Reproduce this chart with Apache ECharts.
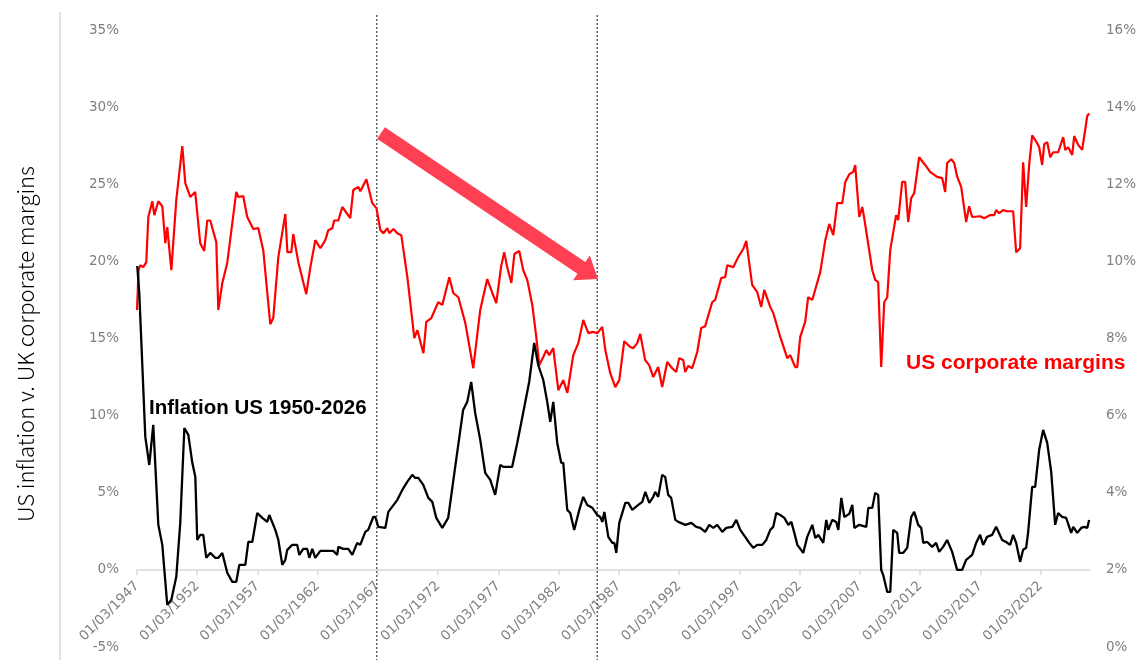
<!DOCTYPE html>
<html>
<head>
<meta charset="utf-8">
<script src="https://cdn.jsdelivr.net/npm/echarts@6/dist/echarts.min.js"></script>
<style>
  html, body { margin: 0; padding: 0; background: #fff; }
  #chart { width: 1146px; height: 672px; }
</style>
</head>
<body>
<div id="chart"></div>
<script>
// US corporate margins (right axis, %)
const marginYears = [
  1947.00,1947.13,1947.27,1947.52,1947.77,1947.94,1948.27,1948.44,1948.77,1949.10,1949.35,1949.51,1949.85,
  1950.26,1950.76,1951.01,1951.42,1951.83,1952.25,1952.58,1952.83,1953.08,1953.58,1953.75,1954.08,1954.49,
  1955.24,1955.41,1955.82,1956.15,1956.65,1957.07,1957.48,1958.06,1958.31,1958.73,1959.31,1959.48,1959.81,
  1959.97,1960.39,1961.05,1961.39,1961.80,1962.22,1962.63,1962.88,1963.21,1963.37,1963.71,1964.04,1964.70,
  1964.95,1965.37,1965.54,1966.04,1966.53,1966.87,1967.20,1967.45,1967.78,1967.94,1968.28,1968.61,1968.94,
  1969.44,1970.02,1970.27,1970.77,1971.01,1971.43,1972.00,1972.34,1972.59,1972.92,1973.25,1973.67,1974.25,
  1974.91,1975.49,1976.07,1976.49,1976.82,1977.23,1977.48,1977.73,1978.07,1978.32,1978.73,1979.06,1979.39,
  1979.81,1980.14,1980.39,1980.72,1980.97,1981.22,1981.55,1981.97,1982.38,1982.72,1983.21,1983.63,1984.04,
  1984.46,1984.87,1985.21,1985.62,1985.87,1986.28,1986.70,1987.03,1987.44,1987.94,1988.19,1988.52,1988.77,
  1989.18,1989.51,1989.85,1990.26,1990.59,1991.01,1991.42,1991.76,1992.00,1992.34,1992.50,1992.75,1993.08,
  1993.50,1993.83,1994.16,1994.74,1994.99,1995.49,1995.82,1995.99,1996.49,1996.90,1997.32,1997.57,1998.06,
  1998.48,1998.81,1999.06,1999.56,1999.81,2000.39,2000.97,2001.22,2001.63,2001.80,2002.05,2002.46,2002.71,
  2003.05,2003.71,2004.13,2004.46,2004.79,2005.12,2005.54,2005.79,2006.12,2006.45,2006.61,2006.95,2007.20,
  2007.36,2008.03,2008.27,2008.52,2008.77,2009.02,2009.27,2009.52,2010.01,2010.18,2010.51,2010.76,2011.01,
  2011.26,2011.51,2011.92,2012.42,2012.83,2013.41,2013.83,2014.08,2014.24,2014.58,2014.83,2015.08,2015.41,
  2015.82,2016.07,2016.32,2016.99,2017.32,2017.82,2018.15,2018.31,2018.56,2018.89,2019.22,2019.72,2019.97,
  2020.30,2020.55,2020.80,2021.05,2021.30,2021.71,2021.88,2022.13,2022.30,2022.55,2022.80,2023.05,2023.46,
  2023.88,2024.04,2024.29,2024.62,2024.79,2025.12,2025.45,2025.87,2026.03
]
const marginPct = [
  8.74,9.77,9.90,9.85,9.98,11.15,11.56,11.20,11.56,11.43,10.47,10.89,9.77,
  11.59,12.99,12.03,11.67,11.80,10.47,10.27,11.06,11.06,10.50,8.74,9.44,9.96,
  11.80,11.67,11.69,11.15,10.84,10.86,10.29,8.37,8.53,10.11,11.23,10.24,10.24,
  10.71,9.98,9.15,9.85,10.55,10.34,10.55,10.81,10.86,11.06,11.06,11.41,11.12,
  11.85,11.93,11.82,12.13,11.51,11.38,10.81,10.73,10.86,10.73,10.84,10.73,10.68,
  9.59,8.01,8.22,7.62,8.43,8.53,8.94,8.87,9.18,9.59,9.18,9.07,8.40,
  7.23,8.74,9.54,9.18,8.92,9.88,10.24,9.85,9.44,10.19,10.27,9.77,9.52,
  8.87,8.04,7.31,7.52,7.70,7.57,7.75,6.66,6.92,6.59,7.57,7.88,8.48,
  8.14,8.17,8.14,8.30,7.70,7.10,6.74,6.92,7.93,7.78,7.75,7.88,8.12,
  7.44,7.31,7.00,7.26,6.74,7.39,7.23,7.13,7.49,7.44,7.13,7.29,7.23,
  7.65,8.27,8.32,8.94,9.00,9.57,9.59,9.90,9.85,10.11,10.32,10.53,9.39,
  9.20,8.82,9.26,8.82,8.66,8.04,7.49,7.57,7.26,7.26,8.04,8.43,9.07,
  9.00,9.72,10.55,10.97,10.68,11.51,11.51,12.06,12.26,12.32,12.50,11.15,11.41,
  11.12,9.77,9.52,9.46,7.26,8.94,9.07,10.29,11.20,11.07,12.06,12.06,11.02,
  11.64,11.77,12.70,12.50,12.32,12.19,12.16,11.80,12.55,12.65,12.55,12.19,11.93,
  11.02,11.43,11.15,11.17,11.12,11.20,11.20,11.33,11.25,11.33,11.30,11.30,10.24,
  10.34,12.57,11.41,12.50,13.27,13.07,12.96,12.50,13.04,13.09,12.70,12.83,12.83,
  13.22,12.89,12.96,12.76,13.25,13.02,12.89,13.77,13.84
]

// US inflation (left axis, %)
const inflationYears = [
  1947.02,1947.19,1947.69,1948.02,1948.35,1948.77,1949.10,1949.51,1949.85,1950.26,1950.59,1950.93,1951.26,
  1951.59,1951.84,1952.00,1952.25,1952.50,1952.75,1953.08,1953.50,1953.75,1954.08,1954.49,1954.91,1955.24,
  1955.49,1955.99,1956.24,1956.57,1956.98,1957.40,1957.81,1957.98,1958.48,1958.73,1959.06,1959.31,1959.47,
  1959.89,1960.30,1960.47,1960.80,1961.13,1961.30,1961.55,1961.80,1962.21,1962.79,1963.29,1963.62,1963.71,
  1964.12,1964.54,1964.87,1965.28,1965.53,1965.95,1966.19,1966.61,1966.78,1967.03,1967.61,1967.86,1968.61,
  1969.02,1969.43,1969.85,1970.10,1970.35,1970.76,1971.18,1971.51,1971.84,1972.00,1972.34,1972.83,1973.41,
  1974.07,1974.41,1974.74,1975.07,1975.49,1975.90,1976.32,1976.73,1977.15,1977.40,1978.14,1978.56,1979.05,
  1979.55,1979.97,1980.30,1980.72,1981.05,1981.30,1981.55,1981.88,1982.21,1982.38,1982.71,1982.96,1983.29,
  1983.71,1984.04,1984.37,1984.79,1985.20,1985.45,1985.62,1985.79,1986.12,1986.45,1986.62,1986.78,1987.03,
  1987.53,1987.78,1988.11,1988.61,1988.94,1989.19,1989.35,1989.52,1989.85,1990.01,1990.26,1990.59,1990.84,
  1991.09,1991.34,1991.68,1991.93,1992.51,1993.01,1993.42,1993.75,1994.16,1994.50,1994.83,1995.16,1995.58,
  1995.91,1996.41,1996.74,1997.07,1997.48,1997.82,1998.15,1998.48,1998.90,1999.23,1999.56,1999.81,2000.06,
  2000.39,2000.73,2001.06,2001.31,2001.56,2001.81,2002.30,2002.63,2003.05,2003.30,2003.55,2003.96,2004.21,
  2004.38,2004.71,2005.04,2005.21,2005.46,2005.71,2006.12,2006.37,2006.54,2006.95,2007.53,2007.70,2008.03,
  2008.27,2008.52,2008.77,2008.93,2009.27,2009.52,2009.77,2010.10,2010.26,2010.60,2010.93,2011.26,2011.51,
  2011.84,2012.09,2012.26,2012.59,2013.00,2013.33,2013.58,2013.91,2014.24,2014.66,2015.07,2015.49,2015.82,
  2016.32,2016.65,2016.98,2017.23,2017.56,2017.98,2018.31,2018.81,2019.14,2019.47,2019.72,2019.97,2020.30,
  2020.55,2020.80,2020.96,2021.30,2021.55,2021.88,2022.21,2022.55,2022.88,2023.21,2023.46,2023.79,2024.12,
  2024.54,2024.71,2025.04,2025.37,2025.62,2025.87,2026.03
]
const inflationPct = [
  19.70,17.95,8.62,6.80,9.40,2.92,1.62,-2.27,-1.94,-0.45,3.05,9.20,8.75,
  6.94,6.03,1.94,2.27,2.27,0.78,1.10,0.78,0.78,1.10,-0.19,-0.78,-0.78,
  0.32,0.32,1.81,1.81,3.69,3.37,3.11,3.56,2.59,1.94,0.32,0.65,1.30,
  1.62,1.62,0.97,1.36,1.36,0.78,1.36,0.78,1.23,1.23,1.23,0.97,1.49,
  1.36,1.36,0.97,1.75,1.62,2.46,2.59,3.43,3.43,2.79,2.72,3.76,4.54,
  5.18,5.70,6.16,5.96,5.96,5.51,4.67,4.41,3.37,3.43,2.72,3.37,6.68,
  10.37,10.89,12.18,10.17,8.43,6.29,5.83,4.86,6.80,6.68,6.68,8.23,10.17,
  12.18,14.71,13.29,12.31,10.89,9.59,10.89,8.23,6.94,6.94,3.89,3.69,2.59,
  3.89,4.73,4.21,4.02,3.56,3.43,3.11,3.76,2.14,1.75,1.75,1.10,3.05,
  4.34,4.34,3.89,4.21,4.41,5.06,5.18,4.34,4.73,5.06,4.73,6.16,6.03,
  4.86,4.67,3.24,3.11,2.92,3.05,2.79,2.72,2.46,2.92,2.72,2.92,2.46,
  2.72,2.79,3.24,2.59,2.14,1.75,1.43,1.62,1.62,1.94,2.59,2.79,3.69,
  3.56,3.37,2.92,3.11,2.40,1.62,1.10,2.14,2.92,2.07,2.27,1.75,3.24,
  2.59,3.24,3.11,2.59,4.67,3.43,3.63,4.21,2.72,2.92,2.79,4.02,4.02,
  4.99,4.86,0.00,-0.32,-1.43,-1.43,2.59,2.40,1.10,1.10,1.43,3.43,3.76,
  2.92,2.72,1.75,1.81,1.49,1.75,1.17,1.49,1.94,1.17,0.00,0.00,0.65,
  0.97,1.75,2.27,1.62,2.14,2.27,2.79,1.94,1.81,1.62,2.27,1.75,0.52,
  1.30,1.43,2.40,5.38,5.38,7.78,9.07,8.23,6.35,2.92,3.69,3.43,3.37,
  2.40,2.79,2.40,2.72,2.79,2.72,3.24
]

const tickYears = [1947,1952,1957,1962,1967,1972,1977,1982,1987,1992,1997,2002,2007,2012,2017,2022]
const dividerYears = [1966.9, 1985.2]
const axisTitle = 'US inflation v. UK corporate margins'
const inflationLabel = 'Inflation US 1950-2026'
const marginLabel = 'US corporate margins'

const chart = echarts.init(document.getElementById('chart'))
const grey = '#7f7f7f'
const gridTop = 30, gridBottom = 25

const option = {
  animation: false,
  grid: { left: 137, right: 56, top: gridTop, bottom: gridBottom, containLabel: false, outerBoundsMode: 'none' },
  xAxis: {
    type: 'value',
    min: 1947,
    max: 2026.1,
    offset: 0,
    axisLine: { onZero: false, lineStyle: { color: '#d9d9d9', width: 1.5 } },
    axisTick: { show: true, customValues: tickYears, length: 5, lineStyle: { color: '#d9d9d9', width: 1.5 } },
    axisLabel: {
      customValues: tickYears,
      rotate: 45,
      margin: 14,
      color: grey,
      fontFamily: 'DejaVu Sans',
      fontSize: 13.5,
      formatter: v => '01/03/' + Math.round(v)
    },
    splitLine: { show: false }
  },
  yAxis: [
    {
      type: 'value', min: -5, max: 35, interval: 5,
      axisLine: { show: false }, axisTick: { show: false }, splitLine: { show: false },
      axisLabel: { formatter: '{value}%', color: grey, fontFamily: 'DejaVu Sans', fontSize: 13.5, margin: 18 }
    },
    {
      type: 'value', min: 0, max: 16, interval: 2, position: 'right',
      axisLine: { show: false }, axisTick: { show: false }, splitLine: { show: false },
      axisLabel: { formatter: '{value}%', color: grey, fontFamily: 'DejaVu Sans', fontSize: 13.5, margin: 16 }
    }
  ],
  series: [
    {
      name: marginLabel,
      type: 'line',
      yAxisIndex: 1,
      symbol: 'none',
      lineStyle: { color: '#ff0000', width: 2.2 },
      data: marginYears.map((y, i) => [y, marginPct[i]])
    },
    {
      name: inflationLabel,
      type: 'line',
      yAxisIndex: 0,
      symbol: 'none',
      lineStyle: { color: '#000000', width: 2.3 },
      data: inflationYears.map((y, i) => [y, inflationPct[i]])
    }
  ]
}
chart.setOption(option)

// lift the category axis up to the 0% line of the left axis
const zeroY = chart.convertToPixel({ yAxisIndex: 0 }, 0)
chart.setOption({ xAxis: { offset: -(672 - gridBottom - zeroY) } })

// dotted dividers, arrow and text labels laid over the plot
const divX = dividerYears.map(y => chart.convertToPixel({ xAxisIndex: 0 }, y))
const start = [381, 133], tip = [598, 279]
const dx = tip[0] - start[0], dy = tip[1] - start[1]
const len = Math.sqrt(dx * dx + dy * dy)
const ux = dx / len, uy = dy / len, nx = -uy, ny = ux
const shaft = 7, head = 15, headLen = 20
const base = [tip[0] - headLen * ux, tip[1] - headLen * uy]
const arrowPts = [
  [start[0] + shaft * nx, start[1] + shaft * ny],
  [start[0] - shaft * nx, start[1] - shaft * ny],
  [base[0] - shaft * nx, base[1] - shaft * ny],
  [base[0] - head * nx, base[1] - head * ny],
  tip,
  [base[0] + head * nx, base[1] + head * ny],
  [base[0] + shaft * nx, base[1] + shaft * ny]
]

chart.setOption({
  graphic: [
    { type: 'line', shape: { x1: 60, y1: 12, x2: 60, y2: 660 }, style: { stroke: '#d9d9d9', lineWidth: 1.5 } },
    ...divX.map(x => ({
      type: 'line', shape: { x1: x, y1: 15, x2: x, y2: 660 },
      style: { stroke: '#555', lineWidth: 1.4, lineDash: [2, 2] }
    })),
    { type: 'polygon', shape: { points: arrowPts }, style: { fill: '#ff3f52' } },
    {
      type: 'text', x: 26, y: 344, rotation: Math.PI / 2,
      style: { text: axisTitle, fontFamily: 'Noto Sans CJK SC', fontWeight: 300, fontSize: 22, fill: '#000', align: 'center', verticalAlign: 'middle' }
    },
    {
      type: 'text', x: 149, y: 408,
      style: { text: inflationLabel, fontFamily: 'Liberation Sans', fontWeight: 'bold', fontSize: 20.5, fill: '#000', align: 'left', verticalAlign: 'middle' }
    },
    {
      type: 'text', x: 906, y: 363,
      style: { text: marginLabel, fontFamily: 'Liberation Sans', fontWeight: 'bold', fontSize: 21, fill: '#ff0000', align: 'left', verticalAlign: 'middle' }
    }
  ]
})
</script>
</body>
</html>
